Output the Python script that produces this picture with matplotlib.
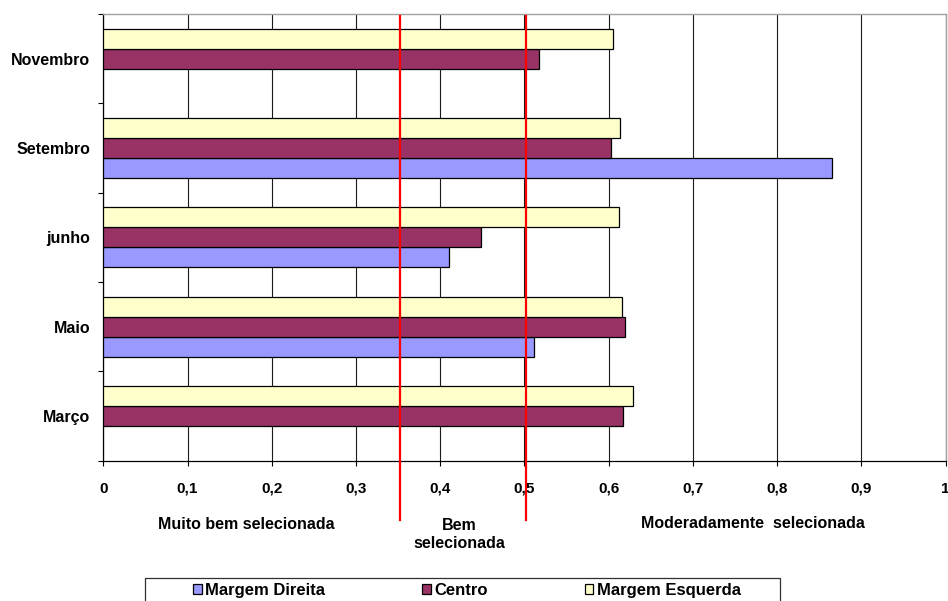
import numpy as np
import matplotlib
matplotlib.use("Agg")
import matplotlib.pyplot as plt
from matplotlib.patches import Rectangle, Patch

plt.rcParams['font.family'] = ['Liberation Sans', 'DejaVu Sans']
plt.rcParams['font.weight'] = 'bold'

categories = ['Março', 'Maio', 'junho', 'Setembro', 'Novembro']
margem_direita = [np.nan, 0.511, 0.411, 0.865, np.nan]
centro = [0.617, 0.619, 0.449, 0.603, 0.517]
margem_esquerda = [0.629, 0.616, 0.612, 0.614, 0.605]
series_names = ['Margem Direita', 'Centro', 'Margem Esquerda']
x_ticks = [0, 0.1, 0.2, 0.3, 0.4, 0.5, 0.6, 0.7, 0.8, 0.9, 1]
x_tick_labels = ['0', '0,1', '0,2', '0,3', '0,4', '0,5', '0,6', '0,7', '0,8', '0,9', '1']
thresholds = [0.352, 0.502]
zone_labels = ['Muito bem selecionada', 'Bem\nselecionada', 'Moderadamente  selecionada']

W, H = 948, 601
fig = plt.figure(figsize=(W / 100, H / 100), dpi=100)
L, R, T, B = 103.3, 945.5, 14.0, 460.7
ax = fig.add_axes([L / W, 1 - B / H, (R - L) / W, (B - T) / H])

y = np.arange(len(categories))
h = 0.224
colors = ['#9999FF', '#993366', '#FFFFCC']
for vals, off, col in zip([margem_direita, centro, margem_esquerda], [-h, 0, h], colors):
    ax.barh(y + off, vals, height=h, color=col, edgecolor='black', linewidth=0.9, zorder=3)

ax.set_xlim(0, 1)
ax.set_ylim(-0.5, len(categories) - 0.5)
ax.set_xticks(x_ticks)
ax.set_xticklabels(x_tick_labels, fontsize=11, fontweight='bold')
ax.set_yticks(y)
ax.set_yticklabels(categories, fontsize=11.5, fontweight='bold')
ax.set_yticks(np.arange(len(categories) + 1) - 0.5, minor=True)
ax.tick_params(axis='y', which='major', length=0, pad=9.5)
ax.tick_params(axis='y', which='minor', length=3.6, width=0.8, direction='out')
ax.tick_params(axis='x', which='major', length=3.6, width=0.8, direction='out', pad=11.5)

ax.grid(axis='x', color='#1a1a1a', linewidth=0.8, zorder=1)
ax.set_axisbelow(True)
for s in ['left', 'bottom']:
    ax.spines[s].set_color('black')
    ax.spines[s].set_linewidth(0.9)
for s in ['top', 'right']:
    ax.spines[s].set_color('#a0a0a0')
    ax.spines[s].set_linewidth(1.0)

# red threshold lines extending below plot
y_bot = (B - 520) / (B - T)
y_top = (B - 16) / (B - T)
for t in thresholds:
    ax.axvline(t, ymin=y_bot, ymax=y_top, color='#FF0000', linewidth=1.6, clip_on=False, zorder=5)

# zone labels
fig.text(246.7 / W, 1 - 529.3 / H, zone_labels[0], ha='center', va='baseline', fontsize=11.5, fontweight='bold')
fig.text(459 / W, 1 - 548.3 / H, zone_labels[1], ha='center', va='baseline', fontsize=11.5,
         fontweight='bold', multialignment='center', linespacing=1.25)
fig.text(753.3 / W, 1 - 528.0 / H, zone_labels[2], ha='center', va='baseline', fontsize=11.5, fontweight='bold')

# legend
handles = [Patch(facecolor=c, edgecolor='black', linewidth=0.9) for c in colors]
leg = fig.legend(handles, series_names, loc='upper left', bbox_to_anchor=(193.3 / W, 1 - 583 / H),
                 ncol=3, frameon=False, borderpad=0, borderaxespad=0,
                 handlelength=0.5, handleheight=0.5, handletextpad=0.2, columnspacing=5.85,
                 prop={'weight': 'bold', 'size': 12})
fig.patches.append(Rectangle((145 / W, 1 - 630 / H), (780 - 145) / W, (630 - 578.3) / H,
                             transform=fig.transFigure, facecolor='none', edgecolor='#303030',
                             linewidth=0.9))

fig.savefig('out.png', dpi=100)
